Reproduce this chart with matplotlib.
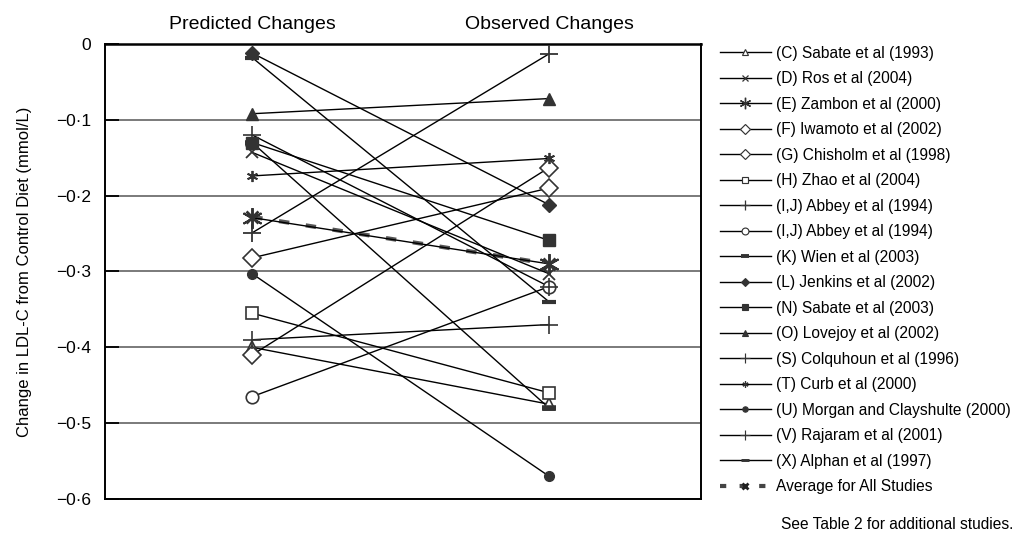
import matplotlib
matplotlib.use("Agg")
import matplotlib.pyplot as plt
from matplotlib.lines import Line2D

plt.rcParams["font.family"] = ["Liberation Sans", "DejaVu Sans"]

# studies, in legend order
studies = ["(C) Sabate et al (1993)", "(D) Ros et al (2004)", "(E) Zambon et al (2000)",
           "(F) Iwamoto et al (2002)", "(G) Chisholm et al (1998)", "(H) Zhao et al (2004)",
           "(I,J) Abbey et al (1994)", "(I,J) Abbey et al (1994)", "(K) Wien et al (2003)",
           "(L) Jenkins et al (2002)", "(N) Sabate et al (2003)", "(O) Lovejoy et al (2002)",
           "(S) Colquhoun et al (1996)", "(T) Curb et al (2000)", "(U) Morgan and Clayshulte (2000)",
           "(V) Rajaram et al (2001)", "(X) Alphan et al (1997)"]
predicted = [-0.40, -0.143, -0.229, -0.282, -0.41, -0.355, -0.249, -0.465, -0.13,
             -0.012, -0.13, -0.092, -0.39, -0.174, -0.303, -0.12, -0.018]
observed = [-0.475, -0.303, -0.29, -0.19, -0.163, -0.46, -0.013, -0.32, -0.48,
            -0.212, -0.259, -0.072, -0.37, -0.151, -0.57, -0.32, -0.34]
avg_label = "Average for All Studies"
avg_values = [-0.228, -0.29]
phases = ["Predicted Changes", "Observed Changes"]
yticks = [0, -0.1, -0.2, -0.3, -0.4, -0.5, -0.6]
ytick_labels = ["0", "\u22120\u00b71", "\u22120\u00b72", "\u22120\u00b73", "\u22120\u00b74", "\u22120\u00b75", "\u22120\u00b76"]

dark = "#333333"
# marker, size, filled, marker edge width
styles = [
    ("^", 8, False, 1.2),
    ("x", 9, True, 1.3),
    ((6, 2, 0), 15, True, 1.4),
    ("D", 9, False, 1.2),
    ("D", 9, False, 1.2),
    ("s", 9, False, 1.2),
    ("+", 13, True, 1.3),
    ("o", 9, False, 1.2),
    ("_", 10, True, 4.0),
    ("D", 7, True, 1.0),
    ("s", 8, True, 1.0),
    ("^", 9, True, 1.0),
    ("+", 13, True, 1.2),
    ((6, 2, 0), 8, True, 1.3),
    ("o", 7, True, 1.0),
    ("+", 13, True, 1.2),
    ("_", 10, True, 3.0),
]

fig = plt.figure(figsize=(10.19, 5.36), dpi=100)
ax = fig.add_axes([0.103, 0.069, 0.585, 0.849])

handles = []
for name, p, o, (m, ms, filled, mew) in zip(studies, predicted, observed, styles):
    fc = dark if filled else "white"
    ax.plot([1, 2], [p, o], color="black", lw=1.0, zorder=3)
    ax.plot([1, 2], [p, o], ls="none", marker=m, ms=ms, mfc=fc, mec=dark, mew=mew, zorder=4)
    handles.append(Line2D([], [], color="black", lw=1.0, marker=m, ms=ms * 0.55,
                          mfc=fc, mec=dark, mew=max(mew * 0.7, 0.8), label=name))

ax.plot([1, 2], avg_values, color="#555555", lw=3, ls=(0, (2.5, 4)), zorder=2)
ax.plot([1, 2], avg_values, ls="none", marker="x", ms=9, mec="#333333", mew=2, zorder=2)
handles.append(Line2D([], [], color="#444444", lw=3, ls=(0, (1.5, 3.2)), marker="x",
                      ms=5, mec="#222222", mew=2, label=avg_label))

ax.set_xlim(0.504, 2.512)
ax.set_ylim(-0.6, 0)
ax.set_yticks(yticks)
ax.set_yticklabels(ytick_labels, fontsize=12.5)
ax.tick_params(axis="y", direction="in", length=10, width=1.3, pad=10)
ax.yaxis.grid(True, color="#707070", lw=1.3)
ax.set_axisbelow(True)

ax.xaxis.tick_top()
ax.set_xticks([1, 2])
ax.set_xticklabels(phases, fontsize=14)
ax.tick_params(axis="x", length=0, pad=8)

for s in ax.spines.values():
    s.set_linewidth(1.4)
ax.spines["top"].set_linewidth(1.8)

ax.set_ylabel("Change in LDL-C from Control Diet (mmol/L)", fontsize=12, labelpad=17)

fig.legend(handles=handles, loc="upper left", bbox_to_anchor=(0.700, 0.926),
           frameon=False, fontsize=11.2, handlelength=3.3, handletextpad=0.3,
           labelspacing=0.675, borderaxespad=0)
fig.text(0.766, 0.022, "See Table 2 for additional studies.", fontsize=11.2, ha="left", va="center")

fig.savefig("out.png", dpi=100)
